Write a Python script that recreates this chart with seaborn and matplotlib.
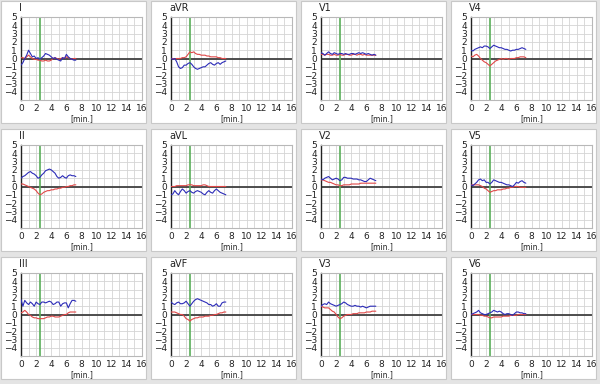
import matplotlib
matplotlib.use("Agg")
import matplotlib.pyplot as plt
import numpy as np
import pandas as pd
import seaborn as sns
from matplotlib.patches import Rectangle

# time axis in minutes, one sample every 0.25 min
minutes = np.arange(30) * 0.25
marker_time = 2.5

leads = [
    ["I", "aVR", "V1", "V4"],
    ["II", "aVL", "V2", "V5"],
    ["III", "aVF", "V3", "V6"],
]

blue_I = [-0.8, -0.5, 0.0, 0.4, 1.0, 0.6, 0.2, 0.3, 0.0, 0.1, -0.1, 0.1, 0.3, 0.6, 0.5,
          0.4, 0.2, 0.0, 0.1, -0.1, -0.2, -0.3, 0.1, 0.0, 0.5, 0.2, 0.0, -0.1, -0.2, -0.2]
red_I = [0.1, 0.1, 0.0, 0.2, 0.4, 0.2, 0.0, -0.1, -0.1, -0.2, -0.2, -0.3, -0.3, -0.2, -0.3,
         -0.3, -0.2, 0.0, 0.1, 0.0, -0.1, 0.0, 0.1, 0.0, 0.2, 0.1, 0.0, -0.1, 0.0, 0.0]
blue_aVR = [0.0, -0.1, 0.0, -0.4, -1.0, -1.2, -1.1, -0.8, -0.8, -0.6, -0.5, -0.7, -1.0, -1.2, -1.3,
            -1.2, -1.1, -1.0, -1.0, -0.8, -0.6, -0.5, -0.7, -0.8, -0.6, -0.5, -0.7, -0.5, -0.4, -0.3]
red_aVR = [0.0, 0.0, -0.1, 0.0, 0.0, 0.0, 0.1, 0.1, 0.2, 0.5, 0.8, 0.7, 0.8, 0.6, 0.5,
           0.5, 0.4, 0.4, 0.4, 0.3, 0.3, 0.2, 0.2, 0.2, 0.2, 0.1, 0.1, 0.0, 0.0, 0.0]
blue_V1 = [0.7, 0.6, 0.4, 0.6, 0.8, 0.6, 0.5, 0.7, 0.6, 0.5, 0.6, 0.6, 0.5, 0.6, 0.5,
           0.5, 0.6, 0.6, 0.5, 0.6, 0.7, 0.6, 0.7, 0.6, 0.5, 0.6, 0.5, 0.4, 0.5, 0.4]
red_V1 = [0.5, 0.5, 0.4, 0.5, 0.5, 0.4, 0.4, 0.5, 0.4, 0.4, 0.5, 0.4, 0.4, 0.5, 0.5,
          0.4, 0.4, 0.5, 0.5, 0.4, 0.5, 0.5, 0.4, 0.5, 0.4, 0.4, 0.4, 0.4, 0.4, 0.4]
blue_V4 = [1.0, 0.9, 1.1, 1.2, 1.3, 1.4, 1.3, 1.5, 1.5, 1.4, 1.2, 1.4, 1.6, 1.5, 1.4,
           1.3, 1.3, 1.2, 1.1, 1.1, 1.0, 0.9, 1.0, 1.0, 1.1, 1.1, 1.2, 1.3, 1.2, 1.1]
red_V4 = [0.3, 0.2, 0.4, 0.5, 0.3, 0.0, -0.2, -0.4, -0.5, -0.7, -0.9, -0.7, -0.5, -0.3, -0.2,
          -0.1, 0.0, -0.1, 0.0, 0.0, -0.1, 0.0, 0.0, 0.0, 0.1, 0.1, 0.2, 0.2, 0.2, 0.1]
blue_II = [1.0, 1.2, 1.3, 1.5, 1.7, 1.8, 1.6, 1.5, 1.3, 1.0, 1.1, 1.4, 1.6, 1.9, 2.0,
           2.1, 2.0, 1.8, 1.6, 1.2, 1.0, 1.1, 1.3, 1.1, 1.0, 1.3, 1.4, 1.3, 1.3, 1.2]
red_II = [0.3, 0.3, 0.2, 0.1, 0.0, -0.1, -0.2, -0.3, -0.5, -0.8, -1.0, -0.9, -0.7, -0.6, -0.5,
          -0.5, -0.4, -0.4, -0.3, -0.3, -0.2, -0.2, -0.1, -0.1, 0.0, 0.0, 0.1, 0.1, 0.2, 0.2]
blue_aVL = [-1.0, -0.9, -0.5, -0.8, -1.0, -0.6, -0.3, -0.5, -0.8, -0.6, -0.5, -0.7, -0.8, -0.6, -0.5,
            -0.6, -0.7, -0.9, -1.0, -0.7, -0.5, -0.7, -0.8, -0.5, -0.3, -0.5, -0.7, -0.8, -0.9, -1.0]
red_aVL = [0.0, 0.0, 0.0, 0.1, 0.1, 0.1, 0.1, 0.1, 0.1, 0.2, 0.2, 0.2, 0.1, 0.1, 0.1,
           0.1, 0.1, 0.2, 0.2, 0.1, 0.0, 0.0, 0.0, 0.0, 0.0, 0.0, 0.0, 0.0, 0.0, 0.0]
blue_V2 = [0.9, 0.8, 1.0, 1.1, 1.2, 1.0, 0.8, 0.9, 1.0, 0.9, 0.7, 0.8, 1.1, 1.1, 1.0,
           1.0, 1.0, 0.9, 0.9, 0.9, 0.8, 0.8, 0.7, 0.6, 0.6, 0.8, 1.0, 0.9, 0.8, 0.7]
red_V2 = [0.8, 0.8, 0.7, 0.6, 0.5, 0.5, 0.4, 0.3, 0.2, 0.2, 0.1, 0.1, 0.2, 0.2, 0.2,
          0.2, 0.3, 0.3, 0.3, 0.3, 0.3, 0.4, 0.4, 0.4, 0.4, 0.4, 0.4, 0.4, 0.4, 0.4]
blue_V5 = [0.2, 0.1, 0.3, 0.5, 0.8, 0.9, 0.7, 0.8, 0.5, 0.5, 0.3, 0.5, 0.8, 0.7, 0.6,
           0.5, 0.5, 0.4, 0.3, 0.2, 0.2, 0.1, 0.0, 0.2, 0.5, 0.4, 0.6, 0.7, 0.5, 0.4]
red_V5 = [0.2, 0.2, 0.2, 0.2, 0.2, 0.1, 0.0, -0.2, -0.3, -0.5, -0.7, -0.6, -0.5, -0.5, -0.4,
          -0.4, -0.4, -0.3, -0.3, -0.2, -0.2, -0.1, -0.1, 0.0, 0.0, 0.0, -0.1, -0.1, -0.1, -0.1]
blue_III = [1.8, 1.0, 1.7, 1.4, 1.2, 1.5, 1.3, 1.0, 1.5, 1.3, 1.2, 1.5, 1.5, 1.4, 1.5,
            1.6, 1.5, 1.2, 1.3, 1.5, 1.5, 1.0, 1.3, 1.4, 1.4, 0.8, 1.3, 1.7, 1.7, 1.6]
red_III = [0.2, 0.3, 0.5, 0.3, 0.0, -0.1, -0.3, -0.4, -0.4, -0.5, -0.5, -0.5, -0.5, -0.4, -0.3,
           -0.3, -0.2, -0.2, -0.3, -0.3, -0.3, -0.2, -0.1, 0.0, 0.0, 0.2, 0.3, 0.3, 0.3, 0.3]
blue_aVF = [1.5, 1.3, 1.2, 1.4, 1.5, 1.3, 1.3, 1.4, 1.6, 1.3, 1.0, 1.3, 1.6, 1.8, 1.9,
            1.8, 1.7, 1.6, 1.5, 1.4, 1.2, 1.2, 1.0, 1.1, 1.3, 1.0, 1.0, 1.4, 1.5, 1.5]
red_aVF = [0.3, 0.3, 0.3, 0.2, 0.1, 0.0, 0.0, -0.2, -0.5, -0.6, -0.8, -0.6, -0.5, -0.4, -0.4,
           -0.3, -0.3, -0.3, -0.2, -0.2, -0.2, -0.1, -0.1, 0.0, 0.0, 0.1, 0.2, 0.2, 0.3, 0.3]
blue_V3 = [1.0, 1.2, 1.3, 1.2, 1.5, 1.3, 1.2, 1.1, 1.0, 1.1, 1.2, 1.3, 1.5, 1.4, 1.2,
           1.1, 1.0, 1.0, 1.1, 1.0, 1.0, 0.9, 1.0, 0.9, 0.8, 0.9, 1.0, 1.0, 1.0, 1.0]
red_V3 = [1.0, 0.9, 0.8, 0.8, 0.8, 0.6, 0.4, 0.3, 0.0, -0.3, -0.5, -0.4, -0.2, -0.1, 0.0,
          0.0, 0.0, 0.1, 0.1, 0.1, 0.2, 0.2, 0.2, 0.2, 0.3, 0.3, 0.3, 0.4, 0.4, 0.4]
blue_V6 = [0.0, 0.1, 0.2, 0.3, 0.5, 0.2, 0.1, 0.0, 0.0, 0.1, 0.2, 0.3, 0.5, 0.4, 0.3,
           0.4, 0.3, 0.1, 0.0, 0.1, 0.1, 0.0, -0.1, 0.1, 0.3, 0.3, 0.2, 0.2, 0.1, 0.1]
red_V6 = [0.0, 0.0, 0.0, 0.0, 0.0, -0.1, -0.1, -0.2, -0.2, -0.3, -0.4, -0.4, -0.3, -0.3, -0.3,
          -0.3, -0.3, -0.2, -0.2, -0.2, -0.2, -0.1, -0.1, -0.1, -0.1, 0.0, 0.0, 0.0, 0.0, 0.0]

series = {
    "I": (blue_I, red_I), "aVR": (blue_aVR, red_aVR), "V1": (blue_V1, red_V1), "V4": (blue_V4, red_V4),
    "II": (blue_II, red_II), "aVL": (blue_aVL, red_aVL), "V2": (blue_V2, red_V2), "V5": (blue_V5, red_V5),
    "III": (blue_III, red_III), "aVF": (blue_aVF, red_aVF), "V3": (blue_V3, red_V3), "V6": (blue_V6, red_V6),
}

BLUE = "#2c2cb8"
RED = "#e04848"
GREEN = "#5aae5a"

sns.set_style("white")
plt.rcParams["font.family"] = ["DejaVu Sans"]

W, H = 600, 384
fig = plt.figure(figsize=(6, 3.84), dpi=100)
fig.patch.set_facecolor("#e4e4e4")

for r, row in enumerate(leads):
    for c, lead in enumerate(row):
        px, py = c * 150, r * 128
        # white panel card, kept behind the axes
        fig.patches.append(Rectangle(((px + 1) / W, 1 - (py + 123) / H), 145 / W, 122 / H,
                                     transform=fig.transFigure, facecolor="white",
                                     edgecolor="#c8c8c8", linewidth=0.8, zorder=-5))
        ax = fig.add_axes([(px + 21) / W, 1 - (py + 100) / H, 121 / W, 83 / H])
        ax.set_facecolor("white")
        blue, red = series[lead]
        df = pd.DataFrame({"min": minutes, "blue": blue, "red": red})
        ax.axhline(0, color="#404040", linewidth=1.3, zorder=2)
        ax.axvline(marker_time, color=GREEN, linewidth=1.2, zorder=2)
        sns.lineplot(data=df, x="min", y="red", ax=ax, color=RED, linewidth=0.8, zorder=3)
        sns.lineplot(data=df, x="min", y="blue", ax=ax, color=BLUE, linewidth=0.8, zorder=4)
        ax.set_xlim(0, 16)
        ax.set_ylim(-5, 5)
        ax.set_xticks(range(0, 17, 2))
        ax.set_xticks(range(0, 17), minor=True)
        ax.set_yticks(range(-4, 6))
        ax.set_yticks(range(-5, 6), minor=True)
        ax.grid(which="both", color="#d4d4d4", linewidth=0.6)
        ax.set_axisbelow(True)
        ax.tick_params(axis="both", which="major", labelsize=6.5, length=2, pad=1,
                       colors="#333333", labelcolor="#222222")
        ax.tick_params(axis="both", which="minor", length=0)
        for side in ["top", "right", "bottom"]:
            ax.spines[side].set_color("#b8b8b8")
            ax.spines[side].set_linewidth(0.8)
        ax.spines["left"].set_color("#222222")
        ax.spines["left"].set_linewidth(1.0)
        ax.set_xlabel("[min.]", fontsize=5.5, labelpad=0.5, color="#222222")
        ax.set_ylabel("")
        fig.text((px + 19) / W, 1 - (py + 8) / H, lead, fontsize=7, color="#222222",
                 ha="left", va="center")

fig.savefig("out.png", dpi=100, facecolor=fig.get_facecolor())
